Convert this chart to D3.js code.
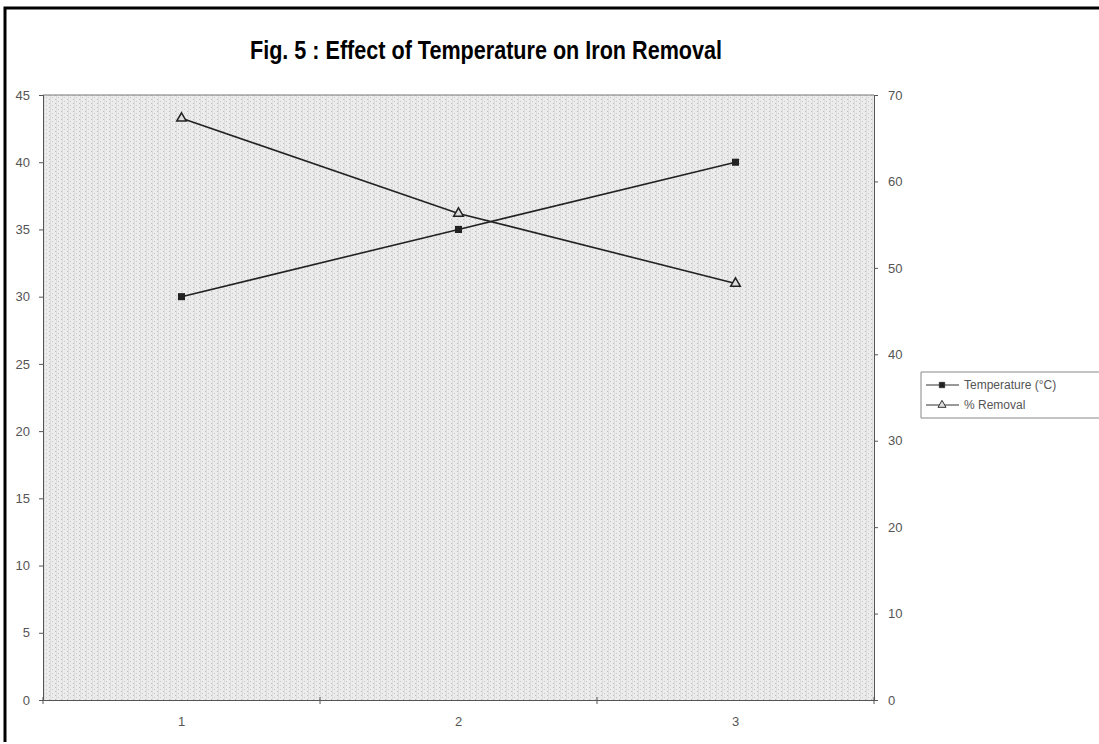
<!DOCTYPE html>
<html>
<head>
<meta charset="utf-8">
<script src="https://cdn.jsdelivr.net/npm/d3@7"></script>
<style>
  html, body { margin: 0; background: #fff; overflow: hidden; }
  svg { display: block; font-family: "Liberation Sans", Arial, sans-serif; }
  .tick text { fill: #555; font-size: 13px; }
  .domain, .tick line { stroke: #555; }
</style>
</head>
<body>
<div id="chart"></div>
<script>
var categories = ["1", "2", "3"];
var temperature = [30, 35, 40];          // left axis
var removal = [67.3, 56.3, 48.2];        // right axis
var leftTicks = [0, 5, 10, 15, 20, 25, 30, 35, 40, 45];
var rightTicks = [0, 10, 20, 30, 40, 50, 60, 70];

var W = 1099, H = 744;
var margin = {top: 95, right: 225, bottom: 44, left: 43},
    width = W - margin.left - margin.right,
    height = H - margin.top - margin.bottom;

var svg = d3.select("#chart").append("svg")
    .attr("width", W).attr("height", H);

// halftone-ish background pattern
var defs = svg.append("defs");
var pat = defs.append("pattern")
    .attr("id", "dots").attr("patternUnits", "userSpaceOnUse")
    .attr("width", 6).attr("height", 4);
pat.append("rect").attr("width", 6).attr("height", 4).attr("fill", "#ececec");
pat.append("rect").attr("x", 0).attr("y", 0).attr("width", 1).attr("height", 1).attr("fill", "#bdbdbd");
pat.append("rect").attr("x", 3).attr("y", 2).attr("width", 1).attr("height", 1).attr("fill", "#c8c8c8");
pat.append("rect").attr("x", 1).attr("y", 0).attr("width", 1).attr("height", 4).attr("fill", "#dedede");

// outer frame
svg.append("path")
    .attr("d", "M5,742 V8 H1099")
    .attr("fill", "none").attr("stroke", "#000").attr("stroke-width", 3);

svg.append("text")
    .attr("x", 486).attr("y", 59)
    .attr("text-anchor", "middle")
    .attr("font-size", 25).attr("font-weight", "bold")
    .attr("textLength", 472).attr("lengthAdjust", "spacingAndGlyphs")
    .text("Fig. 5 : Effect of Temperature on Iron Removal");

var g = svg.append("g").attr("transform", "translate(" + margin.left + "," + margin.top + ")");

var x = d3.scaleBand().domain(categories).range([0, width]);
var yL = d3.scaleLinear().domain([0, 45]).range([height, 0]);
var yR = d3.scaleLinear().domain([0, 70]).range([height, 0]);

g.append("rect").attr("width", width).attr("height", height)
    .attr("fill", "url(#dots)");
g.append("line").attr("x1", 0).attr("x2", width).attr("y1", 0).attr("y2", 0)
    .attr("stroke", "#777");

g.append("g").attr("class", "axis")
    .call(d3.axisLeft(yL).tickValues(leftTicks).tickSize(4).tickPadding(9));
g.append("g").attr("class", "axis")
    .attr("transform", "translate(" + width + ",0)")
    .call(d3.axisRight(yR).tickValues(rightTicks).tickSize(4).tickPadding(10));

var xAxis = g.append("g").attr("class", "axis")
    .attr("transform", "translate(0," + height + ")")
    .call(d3.axisBottom(x).tickSize(0).tickPadding(17));
// category boundary ticks
xAxis.selectAll(".sep").data(d3.range(categories.length + 1)).enter()
    .append("line")
    .attr("x1", function(i) { return i * x.step(); })
    .attr("x2", function(i) { return i * x.step(); })
    .attr("y1", -3).attr("y2", 4)
    .attr("stroke", "#555");

var cx = function(d, i) { return x(categories[i]) + x.bandwidth() / 2; };

var lineL = d3.line().x(cx).y(function(d) { return yL(d); });
var lineR = d3.line().x(cx).y(function(d) { return yR(d); });

g.append("path").datum(temperature).attr("d", lineL)
    .attr("fill", "none").attr("stroke", "#222").attr("stroke-width", 1.6);
g.append("path").datum(removal).attr("d", lineR)
    .attr("fill", "none").attr("stroke", "#222").attr("stroke-width", 1.6);

var sq = d3.symbol().type(d3.symbolSquare).size(50);
var tri = d3.symbol().type(d3.symbolTriangle).size(40);

g.selectAll(".sq").data(temperature).enter().append("path")
    .attr("d", sq)
    .attr("transform", function(d, i) { return "translate(" + cx(d, i) + "," + yL(d) + ")"; })
    .attr("fill", "#222");
g.selectAll(".tri").data(removal).enter().append("path")
    .attr("d", tri)
    .attr("transform", function(d, i) { return "translate(" + cx(d, i) + "," + yR(d) + ")"; })
    .attr("fill", "#ddd").attr("stroke", "#222").attr("stroke-width", 1.5);

// legend
var legend = svg.append("g").attr("transform", "translate(921,372)");
legend.append("path").attr("d", "M0,0 H178 M0,0 V46 H178")
    .attr("fill", "none").attr("stroke", "#888");
var items = [
  {label: "Temperature (°C)", symbol: sq, fill: "#222"},
  {label: "% Removal", symbol: tri, fill: "#ddd"}
];
var li = legend.selectAll(".item").data(items).enter().append("g")
    .attr("transform", function(d, i) { return "translate(0," + (13 + i * 20) + ")"; });
li.append("line").attr("x1", 5).attr("x2", 38).attr("stroke", "#333").attr("stroke-width", 1.2);
li.append("path")
    .attr("d", function(d) { return d.symbol.size(28)(); })
    .attr("transform", "translate(21,0)")
    .attr("fill", function(d) { return d.fill; })
    .attr("stroke", "#333").attr("stroke-width", 1);
li.append("text").attr("x", 43).attr("dy", "0.35em")
    .attr("font-size", 12).attr("fill", "#555")
    .text(function(d) { return d.label; });
</script>
</body>
</html>
